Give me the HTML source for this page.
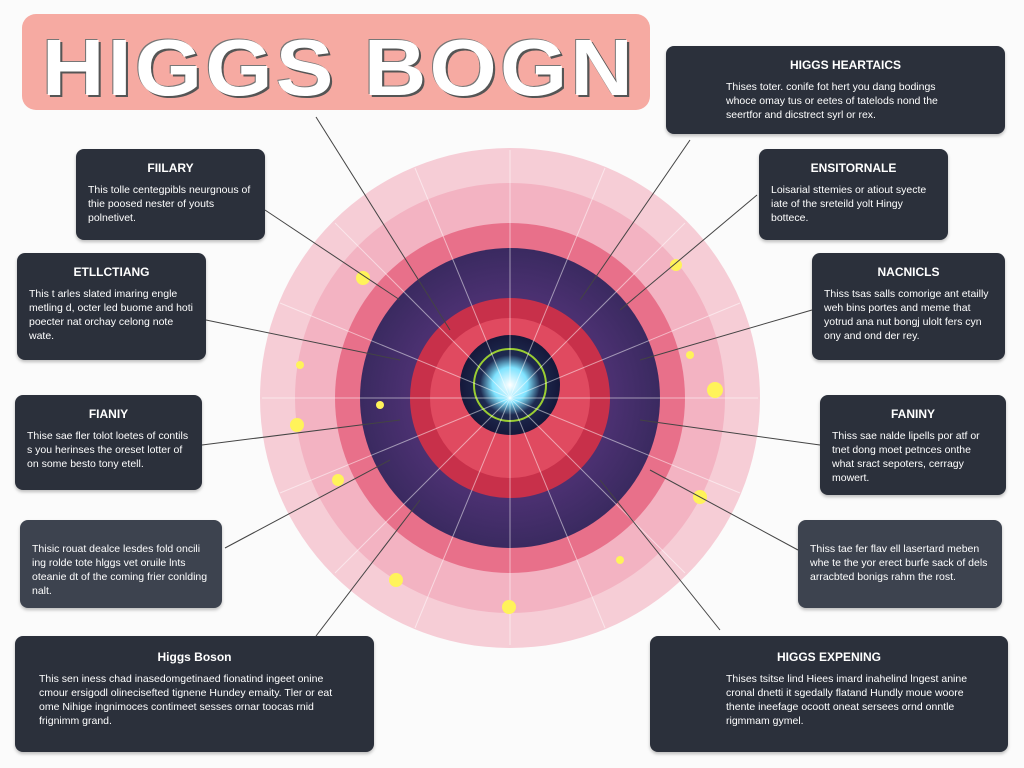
<!DOCTYPE html>
<html><head><meta charset="utf-8"><style>
body{margin:0;width:1024px;height:768px;background:#fbfbfb;position:relative;overflow:hidden;font-family:"Liberation Sans",sans-serif}
.t{position:absolute;left:22px;top:14px;width:628px;height:96px;background:#f6aaa2;border-radius:14px;}
.t span{position:absolute;left:20px;top:8px;font-size:80px;font-weight:bold;color:#fff;letter-spacing:3px;transform:scaleX(1.08);transform-origin:left;text-shadow:2px 2px 0 #555,-1px -1px 0 #777;}
.b{position:absolute;background:#2b303b;border-radius:8px;color:#fff;box-sizing:border-box;padding:8px 12px;font-size:10.5px;line-height:14px;box-shadow:0 2px 3px rgba(0,0,0,.25);overflow:hidden}
.b h{display:block;text-align:center;font-weight:bold;font-size:12px;margin:4px 0 8px}
.l{background:#3d434f}
</style></head><body>
<div class="t"><span>HIGGS BOGN</span></div>
<svg width="1024" height="768" style="position:absolute;left:0;top:0">
<defs>
<radialGradient id="core"><stop offset="0" stop-color="#fff"/><stop offset=".35" stop-color="#7fe3ff"/><stop offset=".6" stop-color="#1e2a50"/><stop offset="1" stop-color="#15183a"/></radialGradient>
<radialGradient id="dark"><stop offset="0" stop-color="#8a3a6a"/><stop offset=".7" stop-color="#4a3070"/><stop offset="1" stop-color="#3a2a60"/></radialGradient>
</defs>
<circle cx="510" cy="398" r="250" fill="#f6cdd6"/>
<circle cx="510" cy="398" r="215" fill="#f3b3c2"/>
<circle cx="510" cy="398" r="175" fill="#e8708a"/>
<circle cx="510" cy="398" r="150" fill="url(#dark)"/>
<circle cx="510" cy="398" r="100" fill="#c8304a"/>
<circle cx="510" cy="398" r="80" fill="#e04a60"/>
<circle cx="510" cy="385" r="50" fill="url(#core)"/>
<circle cx="510" cy="385" r="36" fill="none" stroke="#9acd32" stroke-width="2"/>
<g stroke="#fff" stroke-opacity=".5" stroke-width="1">
<line x1="510" y1="150" x2="510" y2="645"/><line x1="262" y1="398" x2="758" y2="398"/>
<line x1="335" y1="223" x2="685" y2="573"/><line x1="685" y1="223" x2="335" y2="573"/>
<line x1="415" y1="168" x2="605" y2="628"/><line x1="605" y1="168" x2="415" y2="628"/>
<line x1="280" y1="303" x2="740" y2="493"/><line x1="280" y1="493" x2="740" y2="303"/>
</g>
<g fill="#fff35a">
<circle cx="363" cy="278" r="7"/><circle cx="676" cy="265" r="6"/><circle cx="715" cy="390" r="8"/><circle cx="297" cy="425" r="7"/>
<circle cx="338" cy="480" r="6"/><circle cx="700" cy="497" r="7"/><circle cx="396" cy="580" r="7"/><circle cx="509" cy="607" r="7"/>
<circle cx="380" cy="405" r="4"/><circle cx="690" cy="355" r="4"/><circle cx="300" cy="365" r="4"/><circle cx="620" cy="560" r="4"/>
</g>
<g stroke="#444" stroke-width="1" fill="none">
<line x1="316" y1="117" x2="450" y2="330"/><line x1="690" y1="140" x2="580" y2="300"/>
<line x1="265" y1="210" x2="400" y2="300"/><line x1="757" y1="195" x2="620" y2="310"/>
<line x1="206" y1="320" x2="400" y2="360"/><line x1="812" y1="310" x2="640" y2="360"/>
<line x1="202" y1="445" x2="400" y2="420"/><line x1="820" y1="445" x2="640" y2="420"/>
<line x1="225" y1="548" x2="390" y2="460"/><line x1="798" y1="550" x2="650" y2="470"/>
<line x1="316" y1="636" x2="420" y2="500"/><line x1="720" y1="630" x2="600" y2="480"/>
</g>
</svg>
<div class="b" style="left:666px;top:46px;width:339px;height:88px;padding:8px 40px 8px 60px"><h>HIGGS HEARTAICS</h>Thises toter. conife fot hert you dang bodings whoce omay tus or eetes of tatelods nond the seertfor and dicstrect syrl or rex.</div>
<div class="b" style="left:76px;top:149px;width:189px;height:91px"><h>FIILARY</h>This tolle centegpibls neurgnous of thie poosed nester of youts polnetivet.</div>
<div class="b" style="left:759px;top:149px;width:189px;height:91px"><h>ENSITORNALE</h>Loisarial sttemies or atiout syecte iate of the sreteild yolt Hingy bottece.</div>
<div class="b" style="left:17px;top:253px;width:189px;height:107px"><h>ETLLCTIANG</h>This t arles slated imaring engle metling d, octer led buome and hoti poecter nat orchay celong note wate.</div>
<div class="b" style="left:812px;top:253px;width:193px;height:107px"><h>NACNICLS</h>Thiss tsas salls comorige ant etailly weh bins portes and meme that yotrud ana nut bongj ulolt fers cyn ony and ond der rey.</div>
<div class="b" style="left:15px;top:395px;width:187px;height:95px"><h>FIANIY</h>Thise sae fler tolot loetes of contils s you herinses the oreset lotter of on some besto tony etell.</div>
<div class="b" style="left:820px;top:395px;width:186px;height:100px"><h>FANINY</h>Thiss sae nalde lipells por atf or tnet dong moet petnces onthe what sract sepoters, cerragy mowert.</div>
<div class="b l" style="left:20px;top:520px;width:202px;height:88px;padding-top:22px">Thisic rouat dealce lesdes fold oncili ing rolde tote hlggs vet oruile lnts oteanie dt of the coming frier conlding nalt.</div>
<div class="b l" style="left:798px;top:520px;width:204px;height:88px;padding-top:22px">Thiss tae fer flav ell lasertard meben whe te the yor erect burfe sack of dels arracbted bonigs rahm the rost.</div>
<div class="b" style="left:15px;top:636px;width:359px;height:116px;padding:10px 24px"><h>Higgs Boson</h>This sen iness chad inasedomgetinaed fionatind ingeet onine cmour ersigodl olinecisefted tignene Hundey emaity. Tler or eat ome Nihige ingnimoces contimeet sesses ornar toocas rnid frignimm grand.</div>
<div class="b" style="left:650px;top:636px;width:358px;height:116px;padding:10px 24px 10px 76px"><h style="margin-left:-52px">HIGGS EXPENING</h>Thises tsitse lind Hiees imard inahelind lngest anine cronal dnetti it sgedally flatand Hundly moue woore thente ineefage ocoott oneat sersees ornd onntle rigmmam gymel.</div>
</body></html>
